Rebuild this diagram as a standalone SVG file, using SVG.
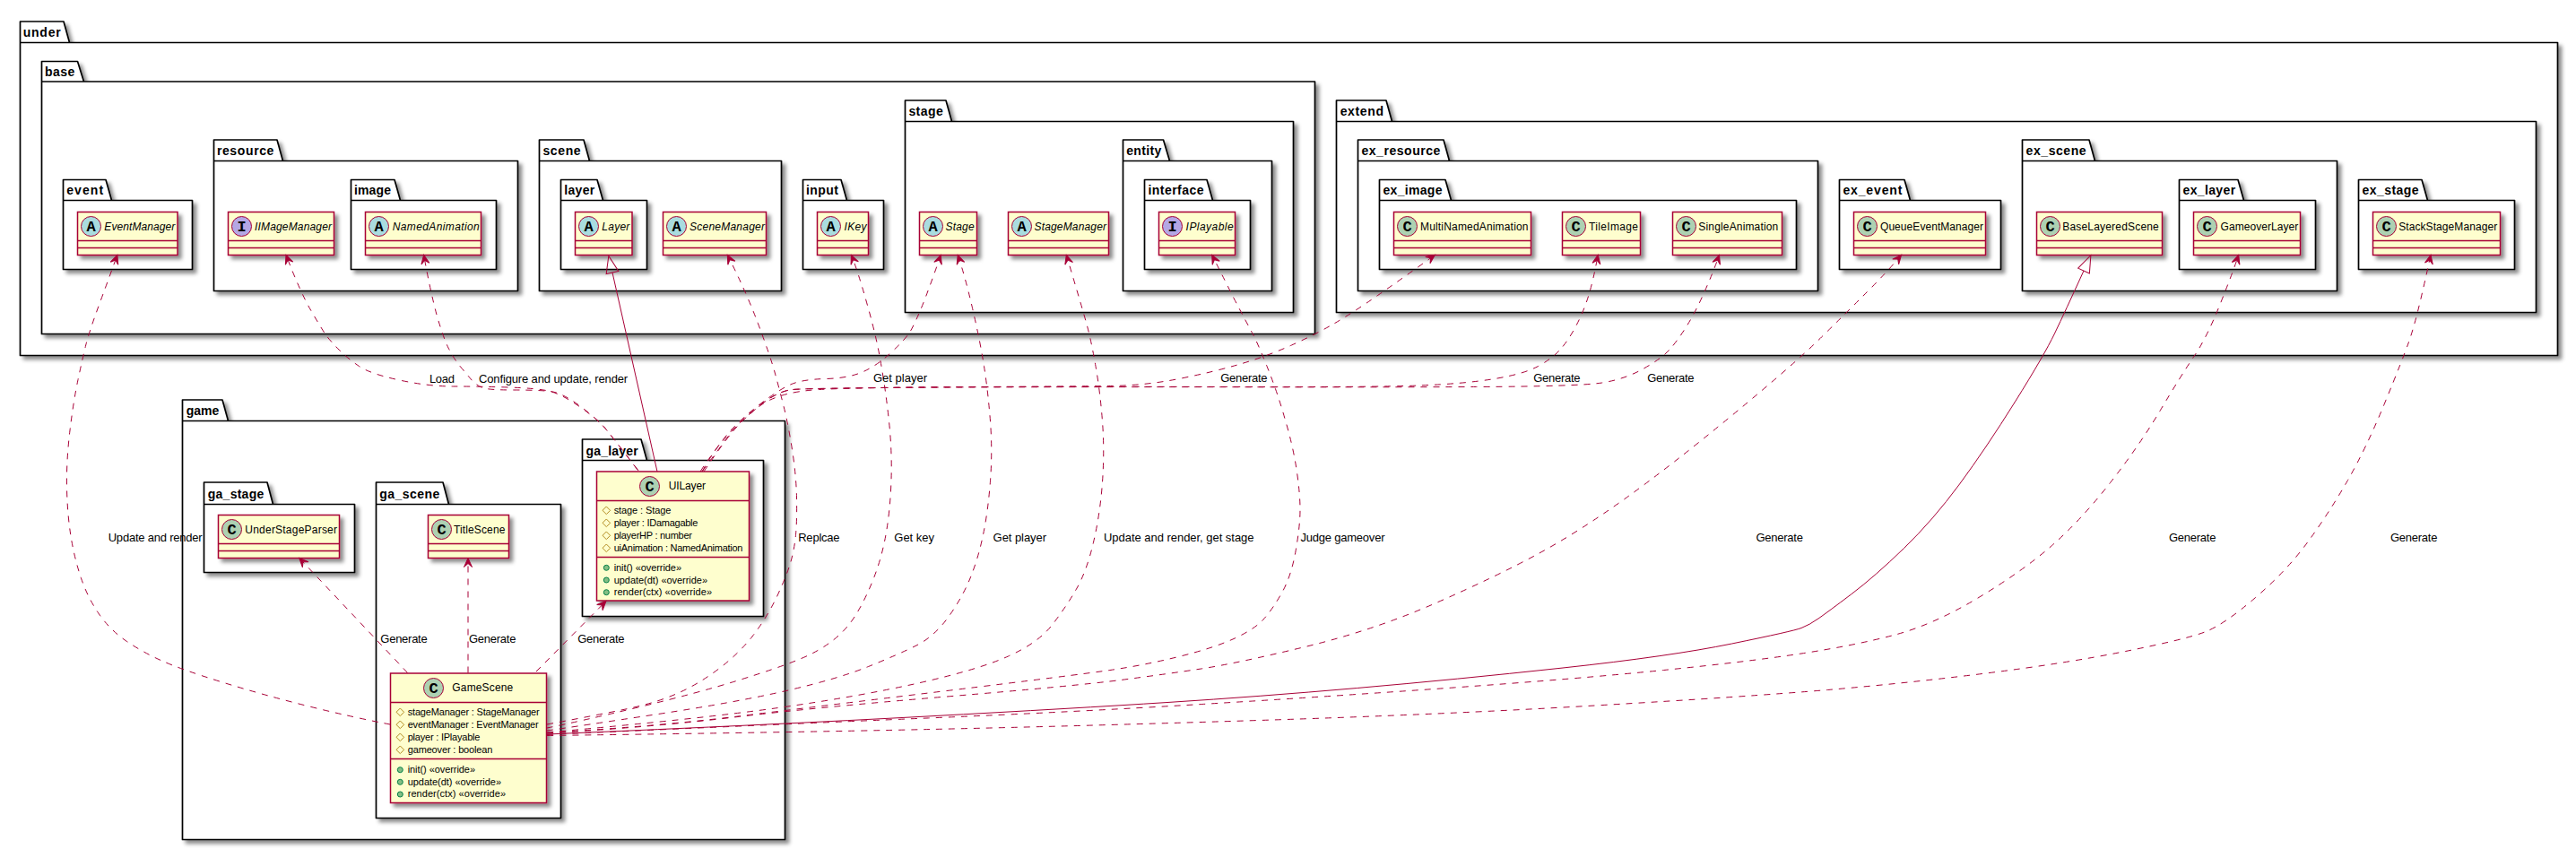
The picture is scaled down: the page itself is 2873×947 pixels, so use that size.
<svg xmlns="http://www.w3.org/2000/svg" width="2873" height="947" viewBox="0 0 2873 947">
<style>
text{font-family:"Liberation Sans",Arial,sans-serif;fill:#000;lengthAdjust:spacing}
.pk{fill:#fff;stroke:#000;stroke-width:1.7;filter:url(#s);stroke-linejoin:round}
.pl{font-size:14px;font-weight:bold}
.bx{fill:#FEFECE;stroke:#A80036;stroke-width:1.5;filter:url(#s)}
.sp{stroke:#A80036;stroke-width:1.5;fill:none}
.cc{fill:#ADD1B2;stroke:#A80036;stroke-width:1}
.ca{fill:#A9DCDF;stroke:#A80036;stroke-width:1}
.ci{fill:#B4A7E5;stroke:#A80036;stroke-width:1}
.g{font-family:"Liberation Mono",monospace;font-size:17px;font-weight:bold;text-anchor:middle}
.n{font-size:12px}
.i{font-size:12px;font-style:italic}
.m{font-size:11px}
.l{font-size:13px}
.dep{fill:none;stroke:#A80036;stroke-width:1;stroke-dasharray:7 7;marker-end:url(#da)}
.ext{fill:none;stroke:#A80036;stroke-width:1;marker-end:url(#ea)}
</style>
<defs>
<filter id="s" x="-20%" y="-20%" width="140%" height="140%"><feDropShadow dx="4" dy="4" stdDeviation="2" flood-color="#000" flood-opacity="0.45"/></filter>
<marker id="da" markerUnits="userSpaceOnUse" markerWidth="14" markerHeight="12" refX="12" refY="6" orient="auto"><path d="M12 6L2 1.5L6 6L2 10.500Z" fill="#A80036" stroke="#A80036"/></marker>
<marker id="ea" markerUnits="userSpaceOnUse" markerWidth="24" markerHeight="20" refX="1" refY="10" orient="auto"><path d="M1 3L20 10L1 17Z" fill="none" stroke="#A80036"/></marker>
<polygon id="d" points="0,-4.300 4.300,0 0,4.300 -4.300,0" fill="none" stroke="#B38D22"/>
<circle id="o" r="3" fill="#84BE84" stroke="#038048"/>
</defs>
<rect width="2873" height="947" fill="#fff"/>

<g id="pkg-under"><path class="pk" d="M22.500 47.500V24H71L77.500 47.500H2852.500V396.500H22.500ZM22.500 47.500H77.500"/><text class="pl" x="25.700" y="40.700" textLength="42">under</text></g>
<g id="pkg-base"><path class="pk" d="M46.500 91V68.500H86.500L93.500 91H1466.500V372.500H46.500ZM46.500 91H93.500"/><text class="pl" x="50" y="84.700" textLength="33.400">base</text></g>
<g id="pkg-event"><path class="pk" d="M70.500 223.500V200.500H118L124.500 223.500H214.500V300.500H70.500ZM70.500 223.500H124.500"/><text class="pl" x="74.200" y="216.700" textLength="41">event</text></g>
<g id="pkg-resource"><path class="pk" d="M238.500 179.500V156H309L315.500 179.500H577.500V324.500H238.500ZM238.500 179.500H315.500"/><text class="pl" x="241.900" y="173" textLength="63.500">resource</text></g>
<g id="pkg-image"><path class="pk" d="M391.500 223.500V200.500H440L446.500 223.500H553.500V300.500H391.500ZM391.500 223.500H446.500"/><text class="pl" x="395" y="216.700" textLength="41">image</text></g>
<g id="pkg-scene"><path class="pk" d="M601.500 179.500V156H651L657.500 179.500H871.500V324.500H601.500ZM601.500 179.500H657.500"/><text class="pl" x="605.400" y="173" textLength="42.200">scene</text></g>
<g id="pkg-layer"><path class="pk" d="M625.500 223.500V200.500H666L672.500 223.500H721.500V300.500H625.500ZM625.500 223.500H672.500"/><text class="pl" x="629.200" y="216.700" textLength="34">layer</text></g>
<g id="pkg-input"><path class="pk" d="M895.500 223.500V200.500H938L944.500 223.500H985.500V300.500H895.500ZM895.500 223.500H944.500"/><text class="pl" x="899" y="216.700" textLength="36">input</text></g>
<g id="pkg-stage"><path class="pk" d="M1009.500 135.500V112H1055L1061.500 135.500H1442.500V348.500H1009.500ZM1009.500 135.500H1061.500"/><text class="pl" x="1013.400" y="129" textLength="38.300">stage</text></g>
<g id="pkg-entity"><path class="pk" d="M1252.500 179.500V156H1297.500L1304.500 179.500H1418.500V324.500H1252.500ZM1252.500 179.500H1304.500"/><text class="pl" x="1256.200" y="173" textLength="39">entity</text></g>
<g id="pkg-interface"><path class="pk" d="M1276.500 223.500V200.500H1346L1352.500 223.500H1394.500V300.500H1276.500ZM1276.500 223.500H1352.500"/><text class="pl" x="1280.500" y="216.700" textLength="62">interface</text></g>
<g id="pkg-extend"><path class="pk" d="M1490.500 135.500V112H1546L1552.500 135.500H2828.500V348.500H1490.500ZM1490.500 135.500H1552.500"/><text class="pl" x="1494.700" y="129" textLength="48.300">extend</text></g>
<g id="pkg-ex_resource"><path class="pk" d="M1514.500 179.500V156H1610L1616.500 179.500H2027.500V324.500H1514.500ZM1514.500 179.500H1616.500"/><text class="pl" x="1518.400" y="173" textLength="88">ex_resource</text></g>
<g id="pkg-ex_image"><path class="pk" d="M1538.500 223.500V200.500H1612L1618.500 223.500H2003.500V300.500H1538.500ZM1538.500 223.500H1618.500"/><text class="pl" x="1542.500" y="216.700" textLength="66">ex_image</text></g>
<g id="pkg-ex_event"><path class="pk" d="M2051.500 223.500V200.500H2124L2130.500 223.500H2231.500V300.500H2051.500ZM2051.500 223.500H2130.500"/><text class="pl" x="2055.400" y="216.700" textLength="66">ex_event</text></g>
<g id="pkg-ex_scene"><path class="pk" d="M2255.500 179.500V156H2330L2336.500 179.500H2606.500V324.500H2255.500ZM2255.500 179.500H2336.500"/><text class="pl" x="2259.600" y="173" textLength="67">ex_scene</text></g>
<g id="pkg-ex_layer"><path class="pk" d="M2430.500 223.500V200.500H2496L2502.500 223.500H2582.500V300.500H2430.500ZM2430.500 223.500H2502.500"/><text class="pl" x="2434.600" y="216.700" textLength="58.500">ex_layer</text></g>
<g id="pkg-ex_stage"><path class="pk" d="M2630.500 223.500V200.500H2701L2707.500 223.500H2804.500V300.500H2630.500ZM2630.500 223.500H2707.500"/><text class="pl" x="2634.600" y="216.700" textLength="63">ex_stage</text></g>
<g id="pkg-game"><path class="pk" d="M203.500 469.500V446H248L254.500 469.500H875.500V936.500H203.500ZM203.500 469.500H254.500"/><text class="pl" x="207.700" y="463.300" textLength="36.700">game</text></g>
<g id="pkg-ga_stage"><path class="pk" d="M227.500 562.500V538H298L304.500 562.500H395.500V638.500H227.500ZM227.500 562.500H304.500"/><text class="pl" x="231.700" y="555.700" textLength="62.600">ga_stage</text></g>
<g id="pkg-ga_scene"><path class="pk" d="M419.500 562.500V538H494L500.500 562.500H625.500V912.500H419.500ZM419.500 562.500H500.500"/><text class="pl" x="423.300" y="555.700" textLength="67">ga_scene</text></g>
<g id="pkg-ga_layer"><path class="pk" d="M649.500 513.500V490H715L721.500 513.500H851.500V687.500H649.500ZM649.500 513.500H721.500"/><text class="pl" x="653.600" y="508.300" textLength="58">ga_layer</text></g>

<g id="EventManager"><rect class="bx" x="86.500" y="236.500" width="111.500" height="48"/><path class="sp" d="M86.500 268.500H198M86.500 276.500H198"/><circle class="ca" cx="101.500" cy="252.500" r="11"/><text class="g" x="101.500" y="258">A</text><text class="i" x="116.300" y="256.700" textLength="79">EventManager</text></g>
<g id="IIMageManager"><rect class="bx" x="254.500" y="236.500" width="118" height="48"/><path class="sp" d="M254.500 268.500H372.500M254.500 276.500H372.500"/><circle class="ci" cx="269.500" cy="252.500" r="11"/><text class="g" x="269.500" y="258">I</text><text class="i" x="284" y="256.700" textLength="86">IIMageManager</text></g>
<g id="NamedAnimation"><rect class="bx" x="407.500" y="236.500" width="129" height="48"/><path class="sp" d="M407.500 268.500H536.500M407.500 276.500H536.500"/><circle class="ca" cx="422.500" cy="252.500" r="11"/><text class="g" x="422.500" y="258">A</text><text class="i" x="437.700" y="256.700" textLength="97">NamedAnimation</text></g>
<g id="Layer"><rect class="bx" x="641.500" y="236.500" width="63.500" height="48"/><path class="sp" d="M641.500 268.500H705M641.500 276.500H705"/><circle class="ca" cx="656.500" cy="252.500" r="11"/><text class="g" x="656.500" y="258">A</text><text class="i" x="671.300" y="256.700" textLength="31">Layer</text></g>
<g id="SceneManager"><rect class="bx" x="739.500" y="236.500" width="115" height="48"/><path class="sp" d="M739.500 268.500H854.500M739.500 276.500H854.500"/><circle class="ca" cx="754.500" cy="252.500" r="11"/><text class="g" x="754.500" y="258">A</text><text class="i" x="769" y="256.700" textLength="84">SceneManager</text></g>
<g id="IKey"><rect class="bx" x="911.500" y="236.500" width="57" height="48"/><path class="sp" d="M911.500 268.500H968.500M911.500 276.500H968.500"/><circle class="ca" cx="926.500" cy="252.500" r="11"/><text class="g" x="926.500" y="258">A</text><text class="i" x="941.600" y="256.700" textLength="25">IKey</text></g>
<g id="Stage"><rect class="bx" x="1025.500" y="236.500" width="64" height="48"/><path class="sp" d="M1025.500 268.500H1089.500M1025.500 276.500H1089.500"/><circle class="ca" cx="1040.500" cy="252.500" r="11"/><text class="g" x="1040.500" y="258">A</text><text class="i" x="1054.600" y="256.700" textLength="32">Stage</text></g>
<g id="StageManager"><rect class="bx" x="1124.500" y="236.500" width="112" height="48"/><path class="sp" d="M1124.500 268.500H1236.500M1124.500 276.500H1236.500"/><circle class="ca" cx="1139.500" cy="252.500" r="11"/><text class="g" x="1139.500" y="258">A</text><text class="i" x="1153.500" y="256.700" textLength="80.500">StageManager</text></g>
<g id="IPlayable"><rect class="bx" x="1292.500" y="236.500" width="85" height="48"/><path class="sp" d="M1292.500 268.500H1377.500M1292.500 276.500H1377.500"/><circle class="ci" cx="1307.500" cy="252.500" r="11"/><text class="g" x="1307.500" y="258">I</text><text class="i" x="1322.600" y="256.700" textLength="53">IPlayable</text></g>
<g id="MultiNamedAnimation"><rect class="bx" x="1554.500" y="236.500" width="153" height="48"/><path class="sp" d="M1554.500 268.500H1707.500M1554.500 276.500H1707.500"/><circle class="cc" cx="1569.500" cy="252.500" r="11"/><text class="g" x="1569.500" y="258">C</text><text class="n" x="1584" y="256.700" textLength="120.500">MultiNamedAnimation</text></g>
<g id="TileImage"><rect class="bx" x="1742.500" y="236.500" width="87" height="48"/><path class="sp" d="M1742.500 268.500H1829.500M1742.500 276.500H1829.500"/><circle class="cc" cx="1757.500" cy="252.500" r="11"/><text class="g" x="1757.500" y="258">C</text><text class="n" x="1772" y="256.700" textLength="55">TileImage</text></g>
<g id="SingleAnimation"><rect class="bx" x="1865.500" y="236.500" width="122" height="48"/><path class="sp" d="M1865.500 268.500H1987.500M1865.500 276.500H1987.500"/><circle class="cc" cx="1880.500" cy="252.500" r="11"/><text class="g" x="1880.500" y="258">C</text><text class="n" x="1894.300" y="256.700" textLength="89">SingleAnimation</text></g>
<g id="QueueEventManager"><rect class="bx" x="2067.500" y="236.500" width="147" height="48"/><path class="sp" d="M2067.500 268.500H2214.500M2067.500 276.500H2214.500"/><circle class="cc" cx="2082.500" cy="252.500" r="11"/><text class="g" x="2082.500" y="258">C</text><text class="n" x="2097" y="256.700" textLength="115">QueueEventManager</text></g>
<g id="BaseLayeredScene"><rect class="bx" x="2271.500" y="236.500" width="140" height="48"/><path class="sp" d="M2271.500 268.500H2411.500M2271.500 276.500H2411.500"/><circle class="cc" cx="2286.500" cy="252.500" r="11"/><text class="g" x="2286.500" y="258">C</text><text class="n" x="2300.200" y="256.700" textLength="107.600">BaseLayeredScene</text></g>
<g id="GameoverLayer"><rect class="bx" x="2446.500" y="236.500" width="119" height="48"/><path class="sp" d="M2446.500 268.500H2565.500M2446.500 276.500H2565.500"/><circle class="cc" cx="2461.500" cy="252.500" r="11"/><text class="g" x="2461.500" y="258">C</text><text class="n" x="2476.600" y="256.700" textLength="86.600">GameoverLayer</text></g>
<g id="StackStageManager"><rect class="bx" x="2646.500" y="236.500" width="142" height="48"/><path class="sp" d="M2646.500 268.500H2788.500M2646.500 276.500H2788.500"/><circle class="cc" cx="2661.500" cy="252.500" r="11"/><text class="g" x="2661.500" y="258">C</text><text class="n" x="2675.200" y="256.700" textLength="110">StackStageManager</text></g>
<g id="UnderStageParser"><rect class="bx" x="243.500" y="574.500" width="135" height="48"/><path class="sp" d="M243.500 606.500H378.500M243.500 614.500H378.500"/><circle class="cc" cx="258.500" cy="590.500" r="11"/><text class="g" x="258.500" y="596">C</text><text class="n" x="273.300" y="595" textLength="102.700">UnderStageParser</text></g>
<g id="TitleScene"><rect class="bx" x="477.500" y="574.500" width="90" height="48"/><path class="sp" d="M477.500 606.500H567.500M477.500 614.500H567.500"/><circle class="cc" cx="492.500" cy="590.500" r="11"/><text class="g" x="492.500" y="596">C</text><text class="n" x="506" y="595" textLength="57.400">TitleScene</text></g>

<g id="UILayer"><rect class="bx" x="665.500" y="526" width="170" height="144"/><path class="sp" d="M665.500 558.500H835.500M665.500 621.500H835.500"/><circle class="cc" cx="724.500" cy="542.500" r="11"/><text class="g" x="724.500" y="548">C</text><text class="n" x="745.700" y="546.300" textLength="41.300">UILayer</text>
<use href="#d" x="676.300" y="569.300"/><use href="#d" x="676.300" y="583.300"/><use href="#d" x="676.300" y="597.300"/><use href="#d" x="676.300" y="611.300"/>
<text class="m" x="684.700" y="572.700" textLength="63.700">stage : Stage</text><text class="m" x="684.700" y="586.700" textLength="93.700">player : IDamagable</text><text class="m" x="684.700" y="600.700" textLength="87.300">playerHP : number</text><text class="m" x="684.700" y="614.700" textLength="143.700">uiAnimation : NamedAnimation</text>
<use href="#o" x="676.300" y="633.300"/><use href="#o" x="676.300" y="647"/><use href="#o" x="676.300" y="660.700"/>
<text class="m" x="684.700" y="636.500" textLength="75.300">init() «override»</text><text class="m" x="684.700" y="650.500" textLength="104.300">update(dt) «override»</text><text class="m" x="684.700" y="663.700" textLength="109.300">render(ctx) «override»</text></g>

<g id="GameScene"><rect class="bx" x="435.500" y="751" width="174" height="144.500"/><path class="sp" d="M435.500 783.500H609.500M435.500 846.500H609.500"/><circle class="cc" cx="483.500" cy="767.500" r="11"/><text class="g" x="483.500" y="773">C</text><text class="n" x="504.300" y="771" textLength="68">GameScene</text>
<use href="#d" x="446.300" y="794.300"/><use href="#d" x="446.300" y="808.300"/><use href="#d" x="446.300" y="822.300"/><use href="#d" x="446.300" y="836.300"/>
<text class="m" x="454.700" y="797.500" textLength="147">stageManager : StageManager</text><text class="m" x="454.700" y="811.500" textLength="146">eventManager : EventManager</text><text class="m" x="454.700" y="825.500" textLength="80.700">player : IPlayable</text><text class="m" x="454.700" y="839.500" textLength="94.700">gameover : boolean</text>
<use href="#o" x="446.300" y="858.700"/><use href="#o" x="446.300" y="872.300"/><use href="#o" x="446.300" y="886"/>
<text class="m" x="454.700" y="861.500" textLength="75.300">init() «override»</text><text class="m" x="454.700" y="875.500" textLength="104.300">update(dt) «override»</text><text class="m" x="454.700" y="888.700" textLength="109.300">render(ctx) «override»</text></g>

<g id="connectors">
<path class="dep" d="M435 808Q393 800 343 787.500Q293 775 248 761Q203 747 181.500 737.500Q160 728 141.500 715.500Q123 703 110.500 685Q98 667 90.500 645Q83 623 79 598Q75 573 74.500 543Q74 513 78 480Q82 447 87 423.500Q92 400 95.700 385Q99.400 370 112 336Q124.600 301.700 130.900 284.300"/>
<path class="dep" d="M712 525Q685 490 676 479Q667 468 647 454Q627 440 613.500 436.500Q600 433 566.500 432Q533 431 505.500 431Q478 431 445.500 424Q413 417 400.500 408.500Q388 400 378 390Q368 380 363 373Q358.700 366.700 346.600 346Q334.500 325 319 284.300"/>
<path class="dep" d="M711 524Q685 490 676 479Q667 468 647 453Q627 438 613.500 436.500Q600 435 573 435Q547 435 540 433Q533.500 431.400 527 425Q521 418 513.500 409Q506 400 500 388Q494.400 376.700 487 351Q480 325 472.600 284.300"/>
<path class="ext" d="M733 526L683 304"/>
<path class="dep" d="M610 808Q680 795 707 789Q734 783 756.500 773Q779 763 801 746.500Q823 730 839 710Q854.500 690 866 666.500Q877 643 881.500 628Q886 613 887.500 596.500Q889 580 888.500 555Q888 530 883.500 501.500Q879 473 874 453Q869 433 864 415Q859 397 845.500 361Q832 325 811.300 284.300"/>
<path class="dep" d="M610 812Q645 805 711.500 789Q778 773 823 759Q868 745 890 736Q912.500 727 928 715Q944 703 955 685Q966 667 975 643.500Q984 620 988.500 593.500Q993 567 994 535Q995 503 991.500 470Q988 437 983 408.500Q978.600 380 967.600 341Q956.700 302 949.400 284.300"/>
<path class="dep" d="M610 815Q645 810 734 796.500Q823 783 879 770Q935 757 968.500 743.500Q1002 730 1022 720Q1042 710 1057.500 688.500Q1073 667 1082 645Q1091 623 1096.500 596.500Q1102 570 1104.500 536.500Q1107 503 1104.500 470Q1102 437 1097.500 408.500Q1093 380 1084.500 343.500Q1076 307 1068.200 284.300"/>
<path class="dep" d="M610 817Q779 802 868 789.500Q957 777 1024 762Q1091 747 1124.500 732Q1158 717 1173.500 697Q1189 677 1200.500 657Q1212 637 1219.500 605Q1227 573 1229.500 538Q1232 503 1229.500 470Q1227 437 1222 408.500Q1217 380 1212.500 363.500Q1208 347 1189.300 284.300"/>
<path class="dep" d="M610 817.500Q734 810 823 799Q912 788 1056 770.500Q1200 753 1238 747.500Q1276 742 1314.500 732.500Q1353 723 1376 712.500Q1399 702 1409 691Q1419 680 1429.500 661.500Q1440 643 1445 615Q1450 587 1450 568.500Q1450 550 1446 523.500Q1442 497 1433 467Q1424.500 437 1413 408.500Q1401.500 380 1396.700 371.500Q1392 363 1376 332.500Q1360.500 301.700 1351.700 284.300"/>
<path class="dep" d="M610 818Q734 810.500 823 799.500Q912 789 1056 777Q1200 765 1250 758.500Q1300 752 1339.500 746Q1379 740 1455.500 721.500Q1532 703 1600.500 673Q1669 643 1715 618Q1761 593 1812 556.500Q1863 520 1931.500 463.500Q2000 407 2030 377.500Q2060 348 2082.500 325.500Q2105 303 2120.600 284.300"/>
<path class="ext" d="M610 819Q868 808 1034 799Q1200 790 1302 783.500Q1404 777 1513.500 767.500Q1623 758 1743 745Q1863 732 1931.500 718Q2000 704 2009 700.500Q2018 697 2028 690Q2038 683 2064.500 663Q2091 643 2123.500 611.500Q2156 580 2185.500 540Q2215 500 2247.500 448Q2280 396 2291.500 372Q2303 348 2324 302"/>
<path class="dep" d="M610 819.500Q868 808 1034 801Q1200 794 1340.500 785.500Q1481 777 1621 767Q1761 757 1855.500 747.500Q1950 738 2009 729Q2068 720 2112 708.500Q2156 697 2206 667Q2256 637 2288.500 608.500Q2321 580 2353.500 538.500Q2386 497 2409.500 457.500Q2433 418 2447 397.500Q2461 377 2476 339.500Q2491 302 2496.700 284.300"/>
<path class="dep" d="M610 820.500Q877 817 1038.500 813.500Q1200 810 1404 803.500Q1608 797 1779 787Q1950 777 2038.500 769.500Q2127 762 2215 751Q2303 740 2370.500 726.500Q2438 713 2459 705Q2480 697 2515 667Q2550 637 2573.500 605Q2597 573 2618 536.500Q2639 500 2659.500 450Q2680 400 2686.500 381.500Q2693 363 2700 333Q2707 303 2711 284.300"/>
<path class="dep" d="M783 526Q796 503 809.500 486.500Q823 470 845.500 452.500Q868 435 881.500 429Q895 423 921.500 422.500Q948 421.700 964 414Q979.500 406.700 994 393Q1008.500 380 1015 370Q1021 360 1031 335Q1040.500 310 1049.300 284.300"/>
<path class="dep" d="M781 526Q796 503 810.500 486.500Q825 470 846.500 453.500Q868 437 914 434.500Q960 432 1080 431.500Q1200 431 1238.500 430.500Q1277 430 1315 422.500Q1353 415 1383.500 406Q1414 397 1440.500 385Q1467 373 1487 361.500Q1507 350 1538 328.500Q1569 307 1600.500 284.300"/>
<path class="dep" d="M785 526Q803 499 815.500 483.500Q828 468 848 452Q868 436 884 434.500Q900 433 1050 432Q1200 431 1366 431.500Q1532 432 1583 430Q1634 428 1667 422.500Q1700 417 1715.500 408.500Q1731 400 1740 390Q1749 380 1757.500 364Q1766 348 1771.500 330.500Q1777 313 1782.200 284.300"/>
<path class="dep" d="M783 526Q800 503 813 485.500Q826 468 847 452Q868 436 884 434.500Q900 433 1050 432Q1200 431.500 1366 431.700Q1532 432 1646.500 431.500Q1761 431 1786.500 427Q1812 423 1832.500 411.500Q1853 400 1862 390Q1871 380 1881 364Q1891 348 1901 325.500Q1911 303 1917.500 284.300"/>
<path class="dep" d="M454.600 750.500L333.800 622.500"/>
<path class="dep" d="M522 750.500V622.500"/>
<path class="dep" d="M598 749L675.900 670.500"/>
</g>
<g id="connector-labels">
<text class="l" x="120.700" y="604" textLength="105">Update and render</text>
<text class="l" x="478.900" y="426.500" textLength="28.100">Load</text>
<text class="l" x="534" y="426.500" textLength="166.200">Configure and update, render</text>
<text class="l" x="974" y="426" textLength="60">Get player</text>
<text class="l" x="1361.200" y="426" textLength="52.400">Generate</text>
<text class="l" x="1710.200" y="426" textLength="52.400">Generate</text>
<text class="l" x="1837.200" y="426" textLength="52.400">Generate</text>
<text class="l" x="890.200" y="604" textLength="46.400">Replcae</text>
<text class="l" x="997.300" y="604" textLength="44.700">Get key</text>
<text class="l" x="1107.600" y="604" textLength="59.400">Get player</text>
<text class="l" x="1231" y="604" textLength="167.500">Update and render, get stage</text>
<text class="l" x="1450.500" y="604" textLength="94">Judge gameover</text>
<text class="l" x="1958.500" y="604" textLength="52.400">Generate</text>
<text class="l" x="2419" y="604" textLength="52.400">Generate</text>
<text class="l" x="2666" y="604" textLength="52.400">Generate</text>
<text class="l" x="424.300" y="717" textLength="52.400">Generate</text>
<text class="l" x="523" y="717" textLength="52.400">Generate</text>
<text class="l" x="644.200" y="717" textLength="52.400">Generate</text>
</g>
</svg>
